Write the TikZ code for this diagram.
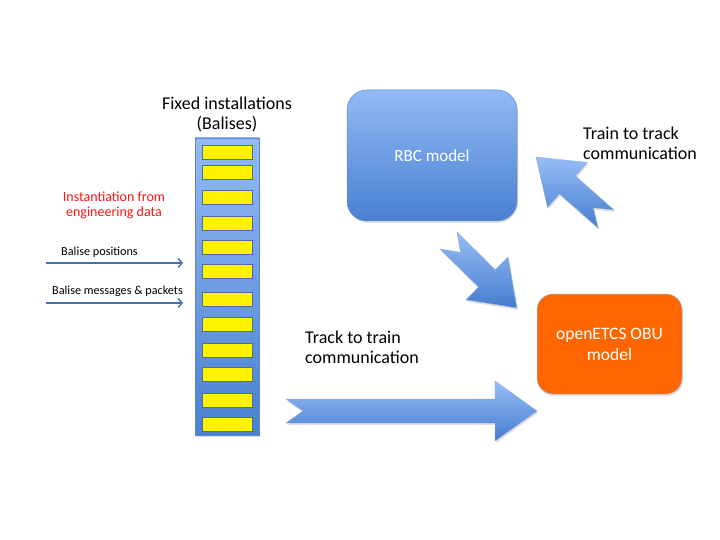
\documentclass[tikz,border=0pt]{standalone}
\usepackage{fontspec}
\setmainfont{Carlito}
\usetikzlibrary{shadows,arrows.meta}
\definecolor{blueTop}{RGB}{146,186,247}
\definecolor{blueBot}{RGB}{74,128,208}
\definecolor{blueEdge}{RGB}{96,136,196}
\definecolor{arrTop}{RGB}{150,190,247}
\definecolor{arrBot}{RGB}{70,124,206}
\definecolor{obuOrange}{RGB}{255,102,0}
\definecolor{thinArrow}{RGB}{72,112,182}
\definecolor{redText}{RGB}{255,20,20}
\tikzset{
  shadowed/.style={drop shadow={opacity=0.25,shadow xshift=1pt,shadow yshift=-2pt}},
  bluebox/.style={draw=blueEdge,line width=0.5pt,top color=blueTop,bottom color=blueBot,shadowed},
  rbcbox/.style={bluebox,rounded corners=20pt,minimum width=170pt,minimum height=131pt,
     text=white,font=\fontsize{17}{20}\selectfont},
  obubox/.style={draw=blueEdge!60,line width=0.5pt,fill=obuOrange,rounded corners=16pt,
     minimum width=145pt,minimum height=100pt,text=white,align=center,
     font=\fontsize{17.5}{21}\selectfont,shadowed},
  column/.style={bluebox,minimum width=64pt,minimum height=297pt},
  balise/.style={draw=blueEdge!80!black,line width=0.6pt,fill=yellow,minimum width=50pt,minimum height=14pt,inner sep=0pt},
  bigtext/.style={align=left,font=\fontsize{18}{20}\selectfont,inner sep=0pt},
  smalltext/.style={font=\fontsize{12.2}{14}\selectfont,inner sep=0pt},
  thinarrow/.style={draw=thinArrow,line width=1.4pt,-{Straight Barb[length=4pt,width=9pt]}},
  blockarrow/.style={draw=blueEdge!70,line width=0.4pt,top color=arrTop,bottom color=arrBot,shadowed}
}
\newcommand{\blockarr}[4]{% x, y, angle, length
  \begin{scope}[shift={(#1,#2)},rotate=#3]
    \path[blockarrow] (0,12) -- (17,0) -- (0,-12) -- (#4-42,-12) -- (#4-42,-30) -- (#4,0)
      -- (#4-42,30) -- (#4-42,12) -- cycle;
  \end{scope}}
\begin{document}
\begin{tikzpicture}[x=1pt,y=-1pt]
\useasboundingbox (0,0) rectangle (720,540);

% column of balises
\node[column] (col) at (227,286.5) {};
\foreach \yy [count=\i] in {152.7,172.7,197,223.7,247,271,299.3,324.7,350.3,374.7,400.3,424.7}
  \node[balise] (b\i) at (227,\yy) {};

\node[align=center,font=\fontsize{18}{20}\selectfont,inner sep=0pt] (title) at (227,115)
  {Fixed installations\\(Balises)};

\node[align=center,text=redText,font=\fontsize{14}{15.5}\selectfont,inner sep=0pt] (inst) at (114,205.5)
  {Instantiation from\\engineering data};

\node[smalltext] (bpos) at (99.5,252) {Balise positions};
\coordinate (p1s) at (46,263);
\coordinate (p1e) at (183,263);
\draw[thinarrow] (p1s) -- (p1e);

\node[smalltext] (bmsg) at (117.5,291) {Balise messages \& packets};
\coordinate (p2s) at (46,303);
\coordinate (p2e) at (183,303);
\draw[thinarrow] (p2s) -- (p2e);

% RBC and OBU
\node[rbcbox] (rbc) at (432,155.5) {RBC model};
\node[obubox] (obu) at (609.5,344) {openETCS OBU\\model};

% block arrows
\blockarr{286}{411}{0}{251}
\blockarr{448.5}{240.5}{-44.6}{96}
\blockarr{606}{219}{138.5}{93.5}

\node[bigtext,anchor=west] (t2t) at (305,347) {Track to train\\communication};
\node[bigtext,anchor=west] (tr2t) at (583,143) {Train to track\\communication};
\end{tikzpicture}
\end{document}
